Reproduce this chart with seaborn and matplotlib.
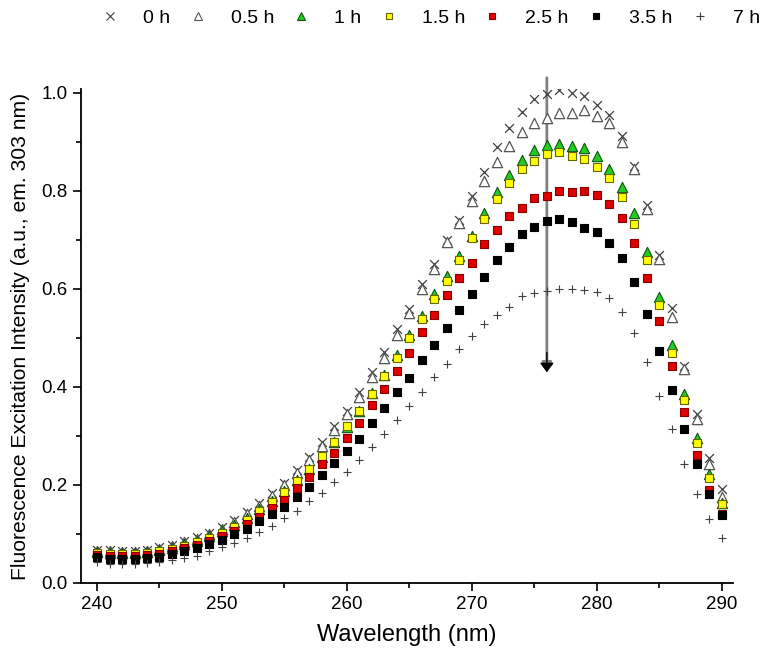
import numpy as np
import pandas as pd
import matplotlib
matplotlib.use("Agg")
import matplotlib.pyplot as plt
import seaborn as sns
from matplotlib.lines import Line2D
from matplotlib.ticker import MultipleLocator

# -----------------------------------------------
# Data
# -----------------------------------------------
wavelength = list(range(240, 291))

h0 = [0.068, 0.068, 0.066, 0.066, 0.068, 0.073, 0.078, 0.085, 0.093, 0.102,
      0.115, 0.129, 0.144, 0.163, 0.183, 0.205, 0.230, 0.258, 0.287, 0.320,
      0.351, 0.389, 0.430, 0.471, 0.518, 0.559, 0.611, 0.650, 0.700, 0.740,
      0.790, 0.838, 0.890, 0.929, 0.961, 0.988, 0.998, 1.005, 1.000, 0.993,
      0.976, 0.955, 0.913, 0.850, 0.771, 0.670, 0.561, 0.443, 0.344, 0.255,
      0.192]
h05 = [0.066, 0.065, 0.064, 0.064, 0.066, 0.070, 0.076, 0.083, 0.090, 0.099,
       0.111, 0.125, 0.140, 0.158, 0.178, 0.200, 0.224, 0.250, 0.280, 0.312,
       0.345, 0.380, 0.420, 0.460, 0.505, 0.550, 0.600, 0.640, 0.695, 0.735,
       0.780, 0.820, 0.860, 0.891, 0.921, 0.939, 0.949, 0.959, 0.960, 0.966,
       0.952, 0.939, 0.899, 0.845, 0.764, 0.662, 0.542, 0.436, 0.334, 0.242,
       0.175]
h1 = [0.064, 0.062, 0.061, 0.061, 0.063, 0.067, 0.072, 0.079, 0.086, 0.095,
      0.106, 0.119, 0.133, 0.150, 0.168, 0.188, 0.210, 0.232, 0.258, 0.287,
      0.318, 0.351, 0.388, 0.424, 0.465, 0.506, 0.545, 0.590, 0.627, 0.668,
      0.709, 0.754, 0.797, 0.832, 0.863, 0.883, 0.893, 0.895, 0.891, 0.888,
      0.871, 0.844, 0.809, 0.754, 0.675, 0.584, 0.485, 0.386, 0.296, 0.222,
      0.163]
h15 = [0.062, 0.060, 0.059, 0.059, 0.061, 0.065, 0.070, 0.076, 0.083, 0.092,
       0.103, 0.115, 0.129, 0.146, 0.165, 0.186, 0.208, 0.233, 0.260, 0.288,
       0.320, 0.350, 0.385, 0.423, 0.460, 0.499, 0.539, 0.580, 0.617, 0.660,
       0.703, 0.742, 0.783, 0.817, 0.844, 0.862, 0.876, 0.880, 0.872, 0.865,
       0.849, 0.826, 0.788, 0.732, 0.659, 0.568, 0.469, 0.373, 0.286, 0.215,
       0.161]
h25 = [0.058, 0.056, 0.055, 0.055, 0.057, 0.060, 0.065, 0.071, 0.078, 0.086,
       0.096, 0.107, 0.120, 0.135, 0.152, 0.170, 0.193, 0.217, 0.242, 0.266,
       0.296, 0.327, 0.363, 0.395, 0.433, 0.469, 0.512, 0.547, 0.587, 0.622,
       0.652, 0.692, 0.720, 0.749, 0.766, 0.785, 0.790, 0.800, 0.797, 0.800,
       0.792, 0.773, 0.744, 0.693, 0.623, 0.535, 0.443, 0.348, 0.262, 0.189,
       0.140]
h35 = [0.053, 0.049, 0.048, 0.049, 0.050, 0.054, 0.059, 0.065, 0.071, 0.080,
       0.088, 0.100, 0.110, 0.126, 0.141, 0.156, 0.175, 0.196, 0.220, 0.244,
       0.269, 0.294, 0.326, 0.358, 0.389, 0.419, 0.455, 0.486, 0.520, 0.556,
       0.589, 0.624, 0.660, 0.686, 0.713, 0.727, 0.738, 0.742, 0.736, 0.725,
       0.717, 0.693, 0.664, 0.614, 0.549, 0.473, 0.393, 0.315, 0.243, 0.182,
       0.138]
h7 = [0.043, 0.039, 0.039, 0.039, 0.041, 0.043, 0.046, 0.050, 0.056, 0.065,
      0.073, 0.082, 0.092, 0.104, 0.116, 0.133, 0.146, 0.167, 0.184, 0.206,
      0.226, 0.250, 0.277, 0.303, 0.333, 0.361, 0.390, 0.421, 0.447, 0.477,
      0.503, 0.529, 0.547, 0.564, 0.585, 0.592, 0.595, 0.600, 0.600, 0.597,
      0.594, 0.582, 0.553, 0.510, 0.451, 0.382, 0.315, 0.243, 0.182, 0.131,
      0.092]

labels = ["0 h", "0.5 h", "1 h", "1.5 h", "2.5 h", "3.5 h", "7 h"]
series = [h0, h05, h1, h15, h25, h35, h7]

# -----------------------------------------------
# Styles
# -----------------------------------------------
styles = [
    dict(marker="x", color="#404040", s=40, linewidth=0.9),
    dict(marker="^", color="white", edgecolor="#555555", s=55, linewidth=0.9),
    dict(marker="^", color="#22cc22", edgecolor="#115511", s=55, linewidth=0.8),
    dict(marker="s", color="#ffff00", edgecolor="#666600", s=32, linewidth=0.8),
    dict(marker="s", color="#e00000", edgecolor="#880000", s=32, linewidth=0.8),
    dict(marker="s", color="black", edgecolor="black", s=32, linewidth=0.8),
    dict(marker="+", color="#404040", s=40, linewidth=0.8),
]

sns.set_style("ticks")
plt.rcParams["font.family"] = ["Liberation Sans", "DejaVu Sans"]
plt.rcParams["text.color"] = "black"
plt.rcParams["axes.labelcolor"] = "black"
plt.rcParams["xtick.color"] = "black"
plt.rcParams["ytick.color"] = "black"
plt.rcParams["axes.edgecolor"] = "black"

fig = plt.figure(figsize=(7.62, 6.64), dpi=100)
ax = fig.add_axes([0.106, 0.122, 0.856, 0.744])

for lab, vals, st in zip(labels, series, styles):
    df = pd.DataFrame({"wl": wavelength, "val": vals})
    sns.scatterplot(data=df, x="wl", y="val", ax=ax, zorder=3, **st)

ax.set_xlim(238.7, 290.9)
ax.set_ylim(0, 1.008)
ax.xaxis.set_major_locator(MultipleLocator(10))
ax.xaxis.set_minor_locator(MultipleLocator(5))
ax.yaxis.set_major_locator(MultipleLocator(0.2))
ax.yaxis.set_minor_locator(MultipleLocator(0.1))
ax.yaxis.set_major_formatter(matplotlib.ticker.FormatStrFormatter("%.1f"))
ax.tick_params(which="major", direction="out", length=6, width=1.2, labelsize=13.5)
ax.tick_params(which="minor", direction="out", length=3.5, width=1.2)
for sp in ["top", "right"]:
    ax.spines[sp].set_visible(False)
for sp in ["left", "bottom"]:
    ax.spines[sp].set_linewidth(1.3)

ax.set_xlabel("Wavelength (nm)", fontsize=17, labelpad=8)
ax.set_ylabel("Fluorescence Excitation Intensity (a.u., em. 303 nm)", fontsize=15.2, labelpad=8)

# arrow marking decrease over time
ax.annotate("", xy=(276, 0.43), xytext=(276, 1.031),
            arrowprops=dict(arrowstyle="-|>", color="#808080", lw=2,
                            mutation_scale=14, shrinkA=0, shrinkB=0),
            annotation_clip=False, zorder=2)
ax.annotate("", xy=(276, 0.43), xytext=(276, 0.47),
            arrowprops=dict(arrowstyle="-|>,head_width=0.3", color="black", lw=1,
                            mutation_scale=14, shrinkA=0, shrinkB=0),
            zorder=4)

# legend across the top
handles = []
for lab, st in zip(labels, styles):
    fc = st["color"]
    ec = st.get("edgecolor", st["color"])
    ms = 5 if st["marker"] in ("s",) else 6
    handles.append(Line2D([], [], linestyle="none", marker=st["marker"],
                          markerfacecolor=fc, markeredgecolor=ec,
                          markersize=ms, markeredgewidth=0.8, label=lab))
fig.legend(handles=handles, loc="upper right", bbox_to_anchor=(1.02, 1.012),
           ncol=7, frameon=False, fontsize=14, handletextpad=1.2,
           columnspacing=0.9, handlelength=1.0)

fig.savefig("out.png", dpi=100)
